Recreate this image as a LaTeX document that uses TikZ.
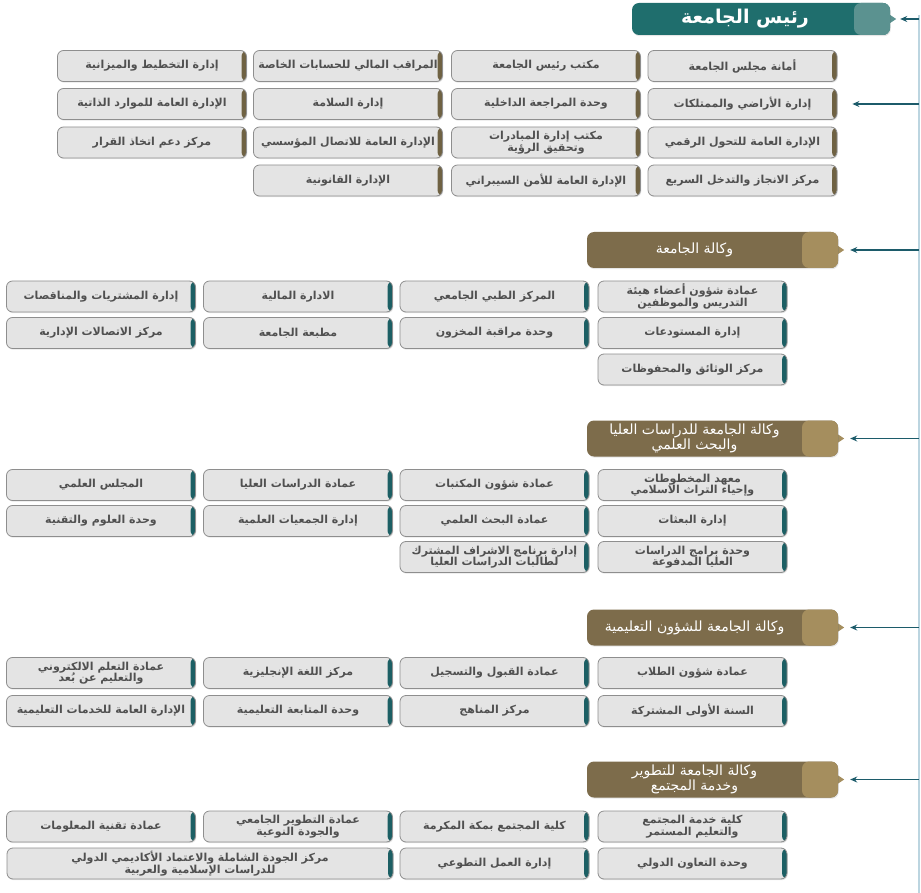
\documentclass[tikz,border=0pt]{standalone}
\usepackage{fontspec}
\newfontfamily\arabicfont[Script=Arabic]{DejaVu Sans}
\TeXXeTstate=1
\usetikzlibrary{arrows.meta,shadows}
\definecolor{boxfill}{HTML}{E4E4E4}
\definecolor{boxline}{HTML}{8E8E8E}
\definecolor{boxtext}{HTML}{505050}
\definecolor{brownbar}{HTML}{6F6243}
\definecolor{tealbar}{HTML}{1C5F64}
\definecolor{chiefdark}{HTML}{1F6E6D}
\definecolor{chieflight}{HTML}{5B9290}
\definecolor{vicedark}{HTML}{7D6C4B}
\definecolor{vicelight}{HTML}{A58E5E}
\definecolor{linkcol}{HTML}{1C5B6A}
\definecolor{spinecol}{HTML}{BCD5E0}
\newcommand{\artext}[1]{\beginR#1\endR}
\begin{document}
\begin{tikzpicture}[x=1pt,y=-1pt,
      unit/.style={draw=boxline, fill=boxfill, line width=0.8pt, rounded corners=6pt,
        minimum width=189pt, minimum height=31pt, inner sep=1pt, align=center,
        drop shadow={shadow xshift=0.8pt, shadow yshift=-1.2pt, opacity=0.2},
        text=boxtext, font=\arabicfont\bfseries\fontsize{11}{11.5}\selectfont,
        path picture={\fill[#1] ([xshift=-5pt]path picture bounding box.north east)
          rectangle (path picture bounding box.south east);}},
      unit/.default=tealbar,
      head/.style 2 args={fill=#1, rounded corners=7pt, minimum height=36pt,
        minimum width=251pt, inner sep=1pt, align=center, text=white,
        font=\arabicfont\fontsize{14}{15}\selectfont,
        drop shadow={shadow xshift=0.8pt, shadow yshift=-1.2pt, opacity=0.2},
        path picture={\fill[#2] ([xshift=-36pt]path picture bounding box.north east)
          rectangle (path picture bounding box.south east);},
        append after command={\pgfextra{\fill[#2] ([yshift=4pt]\tikzlastnode.east)
          -- ([xshift=6pt]\tikzlastnode.east) -- ([yshift=-4pt]\tikzlastnode.east) -- cycle;}}},
      link/.style={draw=linkcol, line width=1.5pt, -{Stealth[length=7pt,width=6pt]}},
      spine/.style={draw=spinecol, line width=1.5pt}]
  \useasboundingbox (0,0) rectangle (921,893);

  \node[head={chiefdark}{chieflight}, minimum width=258pt, minimum height=32pt,
    font=\arabicfont\bfseries\fontsize{19}{20}\selectfont] (chief) at (761,19)
    {\beginR رئيس الجامعة\endR\hspace*{32pt}};

  \node[unit=brownbar] (p11) at (742.5,66) {\artext{أمانة مجلس الجامعة}};
  \node[unit=brownbar] (p12) at (742.5,104) {\artext{إدارة الأراضي والممتلكات}};
  \node[unit=brownbar] (p13) at (742.5,142.5) {\artext{الإدارة العامة للتحول الرقمي}};
  \node[unit=brownbar] (p14) at (742.5,180.5) {\artext{مركز الانجاز والتدخل السريع}};
  \node[unit=brownbar] (p21) at (546,66) {\artext{مكتب رئيس الجامعة}};
  \node[unit=brownbar] (p22) at (546,104) {\artext{وحدة المراجعة الداخلية}};
  \node[unit=brownbar] (p23) at (546,142.5) {\artext{مكتب إدارة المبادرات}\\\artext{وتحقيق الرؤية}};
  \node[unit=brownbar] (p24) at (546,180.5) {\artext{الإدارة العامة للأمن السيبراني}};
  \node[unit=brownbar] (p31) at (348,66) {\artext{المراقب المالي للحسابات الخاصة}};
  \node[unit=brownbar] (p32) at (348,104) {\artext{إدارة السلامة}};
  \node[unit=brownbar] (p33) at (348,142.5) {\artext{الإدارة العامة للاتصال المؤسسي}};
  \node[unit=brownbar] (p34) at (348,180.5) {\artext{الإدارة القانونية}};
  \node[unit=brownbar] (p41) at (152,66) {\artext{إدارة التخطيط والميزانية}};
  \node[unit=brownbar] (p42) at (152,104) {\artext{الإدارة العامة للموارد الذاتية}};
  \node[unit=brownbar] (p43) at (152,142.5) {\artext{مركز دعم اتخاذ القرار}};

  \node[head={vicedark}{vicelight}] (vice1) at (712.5,250)
    {\beginR وكالة الجامعة\endR\hspace*{36pt}};
  \node[unit] (a11) at (692.5,296.5) {\artext{عمادة شؤون أعضاء هيئة}\\\artext{التدريس والموظفين}};
  \node[unit] (a12) at (692.5,333) {\artext{إدارة المستودعات}};
  \node[unit] (a13) at (692.5,369.5) {\artext{مركز الوثائق والمحفوظات}};
  \node[unit] (a21) at (494.5,296.5) {\artext{المركز الطبي الجامعي}};
  \node[unit] (a22) at (494.5,333) {\artext{وحدة مراقبة المخزون}};
  \node[unit] (a31) at (298,296.5) {\artext{الادارة المالية}};
  \node[unit] (a32) at (298,333) {\artext{مطبعة الجامعة}};
  \node[unit] (a41) at (101,296.5) {\artext{إدارة المشتريات والمناقصات}};
  \node[unit] (a42) at (101,333) {\artext{مركز الاتصالات الإدارية}};

  \node[head={vicedark}{vicelight}] (vice2) at (712.5,438.5)
    {\beginR وكالة الجامعة للدراسات العليا\endR\hspace*{36pt}\\\beginR والبحث العلمي\endR\hspace*{36pt}};
  \node[unit] (b11) at (692.5,485) {\artext{معهد المخطوطات}\\\artext{وإحياء التراث الاسلامي}};
  \node[unit] (b12) at (692.5,521) {\artext{إدارة البعثات}};
  \node[unit] (b13) at (692.5,557) {\artext{وحدة برامج الدراسات}\\\artext{العليا المدفوعة}};
  \node[unit] (b21) at (494.5,485) {\artext{عمادة شؤون المكتبات}};
  \node[unit] (b22) at (494.5,521) {\artext{عمادة البحث العلمي}};
  \node[unit] (b23) at (494.5,557) {\artext{إدارة برنامج الاشراف المشترك}\\\artext{لطالبات الدراسات العليا}};
  \node[unit] (b31) at (298,485) {\artext{عمادة الدراسات العليا}};
  \node[unit] (b32) at (298,521) {\artext{إدارة الجمعيات العلمية}};
  \node[unit] (b41) at (101,485) {\artext{المجلس العلمي}};
  \node[unit] (b42) at (101,521) {\artext{وحدة العلوم والتقنية}};

  \node[head={vicedark}{vicelight}] (vice3) at (712.5,627.5)
    {\beginR وكالة الجامعة للشؤون التعليمية\endR\hspace*{36pt}};
  \node[unit] (c11) at (692.5,673) {\artext{عمادة شؤون الطلاب}};
  \node[unit] (c12) at (692.5,711) {\artext{السنة الأولى المشتركة}};
  \node[unit] (c21) at (494.5,673) {\artext{عمادة القبول والتسجيل}};
  \node[unit] (c22) at (494.5,711) {\artext{مركز المناهج}};
  \node[unit] (c31) at (298,673) {\artext{مركز اللغة الإنجليزية}};
  \node[unit] (c32) at (298,711) {\artext{وحدة المتابعة التعليمية}};
  \node[unit] (c41) at (101,673) {\artext{عمادة التعلم الالكتروني}\\\artext{والتعليم عن بُعد}};
  \node[unit] (c42) at (101,711) {\artext{الإدارة العامة للخدمات التعليمية}};

  \node[head={vicedark}{vicelight}] (vice4) at (712.5,779.5)
    {\beginR وكالة الجامعة للتطوير\endR\hspace*{36pt}\\\beginR وخدمة المجتمع\endR\hspace*{36pt}};
  \node[unit] (d11) at (692.5,826.5) {\artext{كلية خدمة المجتمع}\\\artext{والتعليم المستمر}};
  \node[unit] (d12) at (692.5,863.5) {\artext{وحدة التعاون الدولي}};
  \node[unit] (d21) at (494.5,826.5) {\artext{كلية المجتمع بمكة المكرمة}};
  \node[unit] (d22) at (494.5,863.5) {\artext{إدارة العمل التطوعي}};
  \node[unit] (d31) at (298,826.5) {\artext{عمادة التطوير الجامعي}\\\artext{والجودة النوعية}};
  \node[unit] (d41) at (101,826.5) {\artext{عمادة تقنية المعلومات}};
  \node[unit, minimum width=386pt] (d32) at (200,863.5)
    {\artext{مركز الجودة الشاملة والاعتماد الأكاديمي الدولي}\\\artext{للدراسات الإسلامية والعربية}};

  \coordinate (top) at (919,15);
  \coordinate (bottom) at (919,893);
  \coordinate (r0) at (919,19);
  \coordinate (r1) at (919,104);
  \coordinate (r2) at (919,250);
  \coordinate (r3) at (919,438.5);
  \coordinate (r4) at (919,627.5);
  \coordinate (r5) at (919,779.5);
  \draw[spine] (top) -- (bottom);
  \draw[link, shorten >=10pt] (r0) -- (chief.east);
  \draw[link, shorten >=15pt] (r1) -- (p12.east);
  \draw[link, shorten >=12pt] (r2) -- (vice1.east);
  \draw[link, shorten >=12pt] (r3) -- (vice2.east);
  \draw[link, shorten >=12pt] (r4) -- (vice3.east);
  \draw[link, shorten >=12pt] (r5) -- (vice4.east);
\end{tikzpicture}
\end{document}
